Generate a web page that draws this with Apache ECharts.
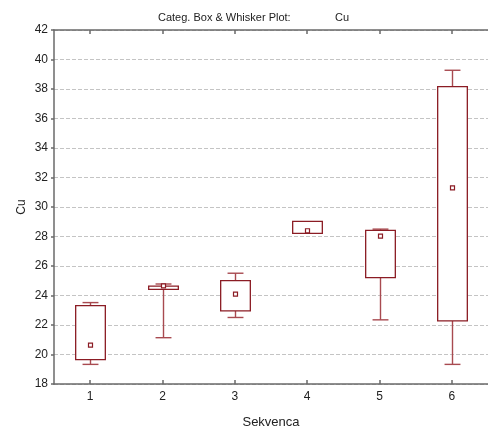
<!DOCTYPE html>
<html>
<head>
<meta charset="utf-8">
<script src="https://cdn.jsdelivr.net/npm/echarts@6/dist/echarts.min.js"></script>
<style>html,body{margin:0;padding:0;background:#fff}#c{width:488px;height:434px}</style>
</head>
<body>
<div id="c"></div>
<script>
var categories = ['1', '2', '3', '4', '5', '6'];
var minVals    = [19.33, 21.14, 22.51, 28.21, 22.35, 19.33];
var q1Vals     = [19.65, 24.42, 22.96, 28.21, 25.21, 22.28];
var q3Vals     = [23.32, 24.63, 25.01, 29.02, 28.41, 38.16];
var maxVals    = [23.52, 24.78, 25.51, 29.02, 28.50, 39.27];
var medianVals = [20.64, 24.65, 24.09, 28.39, 28.03, 31.29];
var yTicks = { min: 18, max: 42, interval: 2 };

var data = categories.map(function (c, i) {
  return [i, minVals[i], q1Vals[i], medianVals[i], q3Vals[i], maxVals[i]];
});

var boxColor = '#8b1c24';
var whiskColor = '#a84a50';
var font = 'Liberation Sans, Arial, sans-serif';

function renderItem(params, api) {
  var x = api.value(0);
  var band = api.size([1, 0])[0];
  var bw = band * 0.41;
  var cw = band * 0.22;
  var pMin = api.coord([x, api.value(1)]);
  var pQ1 = api.coord([x, api.value(2)]);
  var pMed = api.coord([x, api.value(3)]);
  var pQ3 = api.coord([x, api.value(4)]);
  var pMax = api.coord([x, api.value(5)]);
  var cx = Math.round(pMin[0]) + 0.5;
  var children = [];
  var wStyle = { stroke: whiskColor, lineWidth: 1.4, fill: null };
  if (pMax[1] < pQ3[1] - 0.5) {
    children.push({ type: 'line', shape: { x1: cx, y1: pMax[1], x2: cx, y2: pQ3[1] }, style: wStyle });
    children.push({ type: 'line', shape: { x1: cx - cw / 2, y1: pMax[1], x2: cx + cw / 2, y2: pMax[1] }, style: wStyle });
  }
  if (pMin[1] > pQ1[1] + 0.5) {
    children.push({ type: 'line', shape: { x1: cx, y1: pQ1[1], x2: cx, y2: pMin[1] }, style: wStyle });
    children.push({ type: 'line', shape: { x1: cx - cw / 2, y1: pMin[1], x2: cx + cw / 2, y2: pMin[1] }, style: wStyle });
  }
  children.push({
    type: 'rect',
    shape: { x: cx - bw / 2, y: pQ3[1], width: bw, height: pQ1[1] - pQ3[1] },
    style: { stroke: boxColor, lineWidth: 1.3, fill: '#fff' }
  });
  children.push({
    type: 'rect',
    shape: { x: cx - 2, y: pMed[1] - 2, width: 4, height: 4 },
    style: { stroke: boxColor, lineWidth: 1.2, fill: '#fff' }
  });
  return { type: 'group', children: children };
}

var chart = echarts.init(document.getElementById('c'), null, { renderer: 'canvas' });
chart.setOption({
  animation: false,
  backgroundColor: '#fff',
  title: [{
    text: 'Categ. Box & Whisker Plot:',
    left: 153, top: 7,
    textStyle: { fontFamily: font, fontSize: 11, fontWeight: 'normal', color: '#222' }
  }, {
    text: 'Cu',
    left: 330, top: 7,
    textStyle: { fontFamily: font, fontSize: 11, fontWeight: 'normal', color: '#222' }
  }],
  grid: { left: 54, right: -2, top: 30, bottom: 50, containLabel: false },
  xAxis: [{
    type: 'category', data: categories, position: 'bottom', boundaryGap: true,
    name: 'Sekvenca', nameLocation: 'middle', nameGap: 32,
    nameTextStyle: { fontFamily: font, fontSize: 13, color: '#222' },
    axisLine: { show: true, lineStyle: { color: '#6a6a6a', width: 1.5 } },
    axisTick: { show: true, inside: true, length: 4, alignWithLabel: true, lineStyle: { color: '#6a6a6a', width: 1.5 } },
    axisLabel: { fontFamily: font, fontSize: 12, color: '#222', margin: 7 },
    splitLine: { show: false }
  }, {
    type: 'category', data: categories, position: 'top', boundaryGap: true,
    axisLine: { show: true, lineStyle: { color: '#6a6a6a', width: 1.5 } },
    axisTick: { show: true, inside: true, length: 4, alignWithLabel: true, lineStyle: { color: '#6a6a6a', width: 1.5 } },
    axisLabel: { show: false },
    splitLine: { show: false }
  }],
  yAxis: {
    type: 'value', min: yTicks.min, max: yTicks.max, interval: yTicks.interval,
    name: 'Cu', nameLocation: 'middle', nameGap: 26, nameMoveOverlap: false,
    nameTextStyle: { fontFamily: font, fontSize: 12, color: '#222' },
    axisLine: { show: true, lineStyle: { color: '#6a6a6a', width: 1.5 } },
    axisTick: { show: true, inside: false, length: 3, lineStyle: { color: '#6a6a6a', width: 1.5 } },
    axisLabel: { fontFamily: font, fontSize: 12, color: '#222', margin: 6 },
    splitLine: { show: true, lineStyle: { color: '#c4c4c4', type: [4, 2], width: 1 } }
  },
  series: [{
    type: 'custom',
    renderItem: renderItem,
    encode: { x: 0, y: [1, 2, 3, 4, 5] },
    data: data
  }]
});
</script>
</body>
</html>
